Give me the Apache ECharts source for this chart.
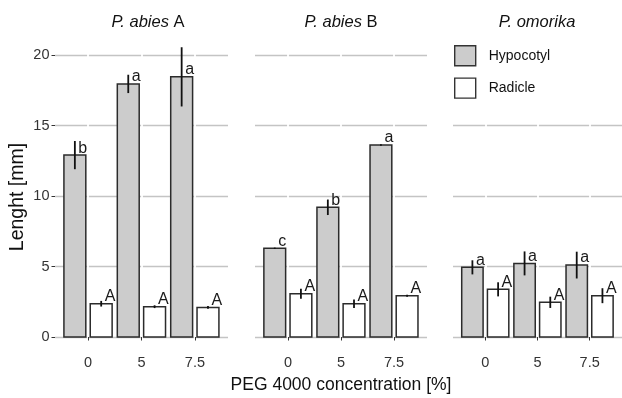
<!DOCTYPE html>
<html><head><meta charset="utf-8">
<script src="https://cdn.jsdelivr.net/npm/echarts@6/dist/echarts.min.js"></script>
<style>html,body{margin:0;padding:0;background:#fff}#c{width:622px;height:398px}</style>
</head><body><div id="c"></div><script>
const categories = ['0', '5', '7.5'];
const speciesItalic = ['P. abies', 'P. abies', 'P. omorika'];
const speciesSuffix = ['A', 'B', ''];
const seriesNames = ['Hypocotyl', 'Radicle'];
const yTicks = [0, 5, 10, 15, 20];
const hypocotylMean = [[12.9, 17.95, 18.45], [6.29, 9.2, 13.62], [4.94, 5.22, 5.1]];
const hypocotylErr = [[1.0, 0.65, 2.1], [0.05, 0.55, 0.05], [0.5, 0.85, 0.95]];
const hypocotylLetters = [['b', 'a', 'a'], ['c', 'b', 'a'], ['a', 'a', 'a']];
const radicleMean = [[2.36, 2.15, 2.1], [3.07, 2.36, 2.93], [3.38, 2.46, 2.93]];
const radicleErr = [[0.2, 0.1, 0.1], [0.35, 0.3, 0.07], [0.5, 0.4, 0.53]];
const radicleLetters = [['A', 'A', 'A'], ['A', 'A', 'A'], ['A', 'A', 'A']];

const FF = '"Liberation Sans", Arial, sans-serif';
const gridsPos = [{left: 55, width: 173}, {left: 255, width: 172}, {left: 453, width: 172}];
const titleX = [148, 341, 537];
const catPos = [1, 2, 3];

function makeRender(panel, kind) {
  const letters = kind === 0 ? hypocotylLetters[panel] : radicleLetters[panel];
  const off = kind === 0 ? -0.248 : 0.245;
  const fill = kind === 0 ? '#cccccc' : '#ffffff';
  return function (params, api) {
    const x = api.value(0), m = api.value(1), e = api.value(2);
    const p0 = api.coord([x + off - 0.205, 0]);
    const p1 = api.coord([x + off + 0.205, m]);
    const c = api.coord([x + off, m]);
    const lo = api.coord([x + off, m - e]);
    const hi = api.coord([x + off, m + e]);
    return {type: 'group', children: [
      {type: 'rect', shape: {x: p0[0], y: p1[1], width: p1[0] - p0[0], height: p0[1] - p1[1]},
        style: {fill: fill, stroke: '#2b2b2b', lineWidth: 1.5}},
      {type: 'line', shape: {x1: c[0], y1: lo[1], x2: c[0], y2: hi[1]},
        style: {stroke: '#111111', lineWidth: 1.8}},
      {type: 'text', x: c[0] + 3.5, y: c[1] - 7,
        style: {text: letters[params.dataIndex], fill: '#1a1a1a', fontSize: 16, fontFamily: FF,
          align: 'left', verticalAlign: 'middle'}}
    ]};
  };
}

const grid = [], xAxis = [], yAxis = [], series = [], graphic = [];
for (let i = 0; i < 3; i++) {
  grid.push({left: gridsPos[i].left, width: gridsPos[i].width, top: 33.85, height: 317.25});
  xAxis.push({gridIndex: i, type: 'value', min: 0.38, max: 3.62, z: 1,
    axisLine: {show: false},
    axisTick: {show: true, customValues: catPos, length: 3.5, lineStyle: {color: '#333333', width: 1}},
    axisLabel: {customValues: catPos, formatter: v => categories[Math.round(v) - 1],
      color: '#333333', fontSize: 14.5, margin: 4, fontFamily: FF},
    splitLine: {show: true, lineStyle: {color: '#ffffff', width: 1.8}}});
  yAxis.push({gridIndex: i, type: 'value', min: -1, max: 21.5, z: 0,
    axisLine: {show: false},
    axisTick: {show: i === 0, customValues: yTicks, length: 3.5, lineStyle: {color: '#333333', width: 1}},
    axisLabel: {show: i === 0, customValues: yTicks, color: '#333333', fontSize: 14.5, margin: 5.5, fontFamily: FF},
    splitLine: {show: true, lineStyle: {color: '#c4c4c4', width: 1.4}}});
  const means = [hypocotylMean[i], radicleMean[i]];
  const errs = [hypocotylErr[i], radicleErr[i]];
  for (let k = 0; k < 2; k++) {
    series.push({type: 'custom', name: seriesNames[k], xAxisIndex: i, yAxisIndex: i,
      itemStyle: {color: k === 0 ? '#cccccc' : '#ffffff', borderColor: '#333333', borderWidth: 1.4},
      renderItem: makeRender(i, k),
      encode: {x: 0, y: 1},
      data: catPos.map((p, j) => [p, means[k][j], errs[k][j]])});
  }
  graphic.push({type: 'text', x: titleX[i], y: 22, z: 20,
    style: {text: '{i|' + speciesItalic[i] + '}' + (speciesSuffix[i] ? ' ' + speciesSuffix[i] : ''),
      rich: {i: {fontStyle: 'italic', fontSize: 16.5, fontFamily: FF, fill: '#111111'}},
      fontSize: 16.5, fontFamily: FF, fill: '#111111', align: 'center', verticalAlign: 'middle'}});
}
graphic.push({type: 'rect', z: 5, shape: {x: 445, y: 37, width: 180, height: 64}, style: {fill: '#ffffff'}});
graphic.push({type: 'text', x: 18, y: 197, rotation: Math.PI / 2, z: 20,
  style: {text: 'Lenght [mm]', fontSize: 19.5, fontFamily: FF, fill: '#111111', align: 'center', verticalAlign: 'middle'}});
graphic.push({type: 'text', x: 341, y: 385, z: 20,
  style: {text: 'PEG 4000 concentration [%]', fontSize: 17.5, fontFamily: FF, fill: '#111111', align: 'center', verticalAlign: 'middle'}});

const chart = echarts.init(document.getElementById('c'), null, {renderer: 'canvas'});
chart.setOption({
  animation: false,
  backgroundColor: '#ffffff',
  grid, xAxis, yAxis, series, graphic,
  legend: {orient: 'vertical', left: 454, top: 45, padding: 0, itemWidth: 21, itemHeight: 20, itemGap: 11,
    selectedMode: false, z: 10,
    textStyle: {fontSize: 14, color: '#111111', fontFamily: FF, padding: [0, 0, 0, 8]},
    data: [
      {name: 'Hypocotyl', icon: 'rect', itemStyle: {color: '#cccccc', borderColor: '#333333', borderWidth: 1.4}},
      {name: 'Radicle', icon: 'rect', itemStyle: {color: '#ffffff', borderColor: '#333333', borderWidth: 1.4}}
    ]}
});
</script></body></html>
